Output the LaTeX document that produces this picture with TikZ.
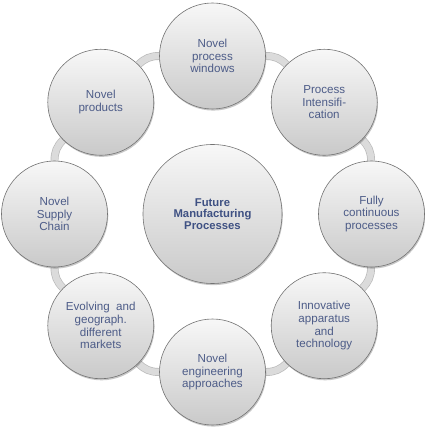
\documentclass[tikz,border=0pt]{standalone}
\usepackage{fontspec}
\setmainfont{Liberation Sans}
\usepackage{xcolor}
\usepackage{tikz}
\usetikzlibrary{shadows,backgrounds}
\definecolor{capblue}{HTML}{4D5C88}
\definecolor{hubblue}{HTML}{3F5183}
\tikzset{
  bubble/.style={circle,draw=black!55,line width=0.6pt,top color=black!3,bottom color=black!21,
    minimum size=106pt,inner sep=0pt,align=center,text=capblue,
    font=\fontsize{11.6}{12.7}\selectfont,
    drop shadow={shadow xshift=0.8pt,shadow yshift=-1.6pt,opacity=0.22,fill=black}},
  core/.style={bubble,minimum size=139pt,text=hubblue,font=\fontsize{11.3}{11.7}\selectfont\bfseries},
  link/.style={draw=black!27,double=black!14,double distance=6.5pt,line width=0.7pt}
}
\begin{document}
\begin{tikzpicture}[x=1pt,y=1pt]
\useasboundingbox (-212.5,-214) rectangle (212.5,214);
\node[core] (hub) at (0,0) {Future\\Manufacturing\\Processes};
\node[bubble] (win) at (90:158) {Novel\\process\\windows};
\node[bubble] (pi) at (45:158) {Process\\Intensifi-\\cation};
\node[bubble] (cont) at (0:159) {Fully\\continuous\\processes};
\node[bubble] (app) at (-45:158) {Innovative\\apparatus\\and\\technology};
\node[bubble] (eng) at (-90:158) {Novel\\engineering\\approaches};
\node[bubble] (mkt) at (-135:158) {Evolving\ \ and\\geograph.\\different\\markets};
\node[bubble] (sc) at (180:158) {Novel\\Supply\\Chain};
\node[bubble] (prod) at (135:158) {Novel\\products};
\begin{pgfonlayer}{background}
\foreach \a/\b in {win/pi,pi/cont,cont/app,app/eng,eng/mkt,mkt/sc,sc/prod,prod/win}
  \draw[link] (\a) to[bend left=22.5] (\b);
\end{pgfonlayer}
\end{tikzpicture}
\end{document}
